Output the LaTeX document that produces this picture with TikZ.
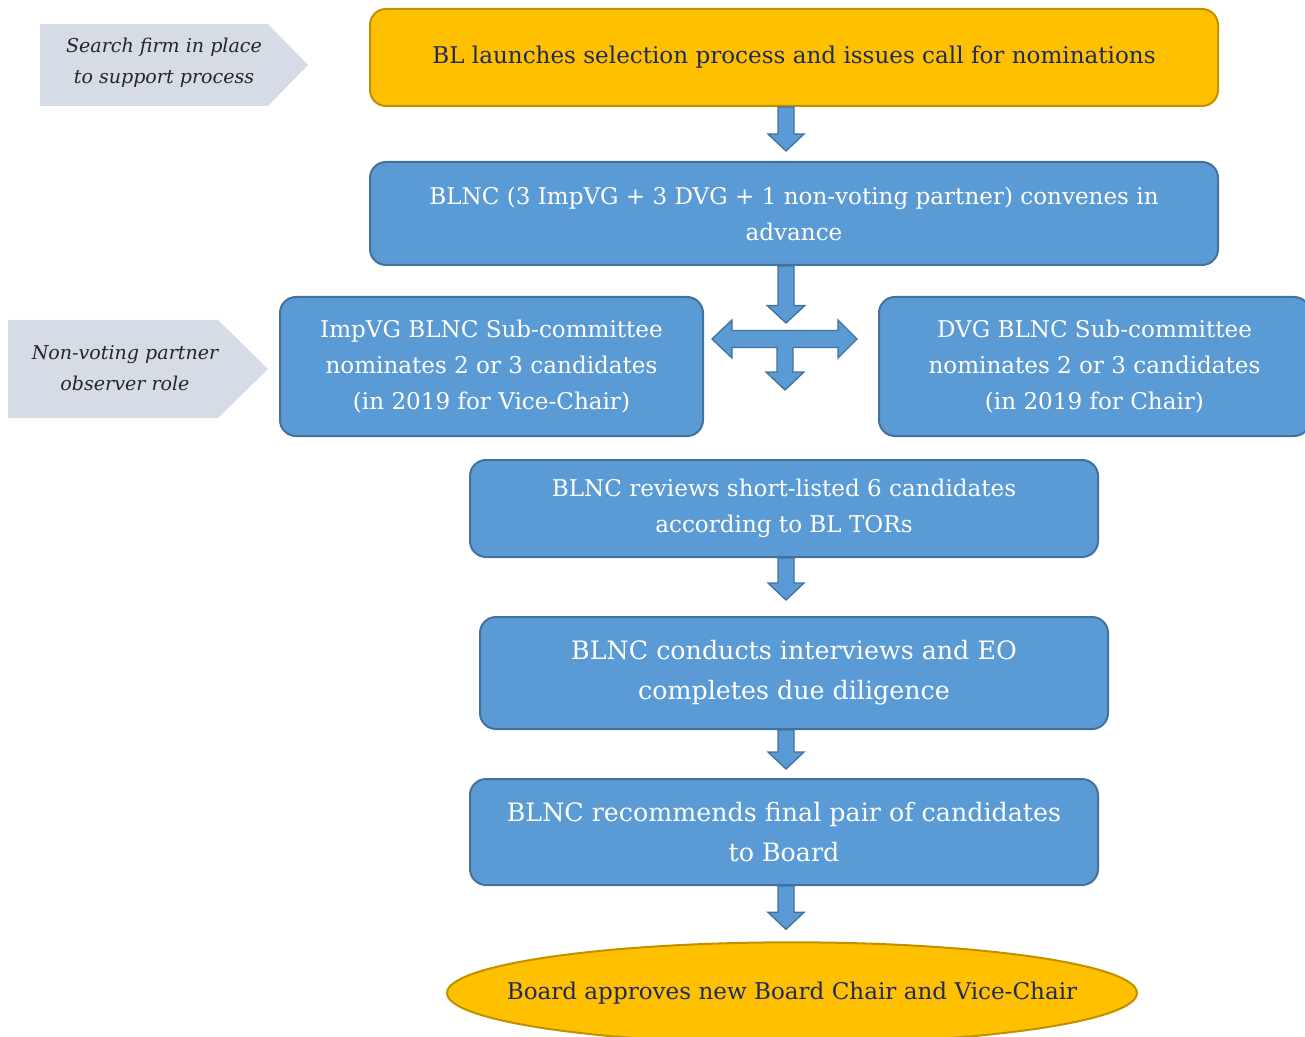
\documentclass[tikz,border=0pt]{standalone}
\usepackage{fontspec}
\setmainfont{DejaVu Serif}
\usetikzlibrary{calc,shapes.geometric}

\definecolor{gold}{HTML}{FFC000}
\definecolor{golddark}{HTML}{BF9000}
\definecolor{stepblue}{HTML}{5B9BD5}
\definecolor{stepline}{HTML}{41719C}
\definecolor{notegrey}{HTML}{D6DCE5}
\definecolor{navy}{HTML}{1F2A5C}

% block arrow from one box down to the next, #3 = gap before the next box
\newcommand{\flowarrow}[3]{%
    \draw [blockarrow] let \p1 = (spine |- #1.south), \p2 = (spine |- #2.north) in
        (\x1-6pt, \y1) -- (\x1-6pt, \y2+#3+12.75pt) -- (\x1-13.5pt, \y2+#3+12.75pt)
        -- (\x1, \y2+#3) -- (\x1+13.5pt, \y2+#3+12.75pt) -- (\x1+6pt, \y2+#3+12.75pt)
        -- (\x1+6pt, \y1) -- cycle;}

\begin{document}
\begin{tikzpicture}[x=0.75pt, y=-0.75pt,
        stepbox/.style={rectangle, rounded corners=12pt, draw=stepline, line width=1.5pt,
            fill=stepblue, text=white, align=center,
            font=\fontsize{17.3}{27}\selectfont},
        bigstep/.style={stepbox, font=\fontsize{19}{30}\selectfont},
        goldbox/.style={stepbox, draw=golddark, fill=gold, text=navy},
        note/.style={align=center, text=black!85, font=\fontsize{14.3}{23}\selectfont\itshape},
        blockarrow/.style={draw=stepline, line width=1pt, fill=stepblue, line join=miter}]
    \clip (0, 0) rectangle (1305, 1037);

    \coordinate (spine) at (786, 0);
    \coordinate (hub) at (785, 339);

    % side notes
    \fill [notegrey] (40, 24) -- (268, 24) -- (308, 65) -- (268, 106) -- (40, 106) -- cycle;
    \node [note] (search) at (164, 63) {Search firm in place\\to support process};
    \fill [notegrey] (8, 320) -- (218, 320) -- (268, 369) -- (218, 418) -- (8, 418) -- cycle;
    \node [note] (observer) at (125, 368) {Non-voting partner\\observer role};

    % steps
    \node [goldbox, minimum width=636pt, minimum height=72.75pt]
        (launch) at (794, 57.5) {BL launches selection process and issues call for nominations};
    \node [stepbox, minimum width=636pt, minimum height=77.25pt]
        (convene) at (794, 213.5) {BLNC (3 ImpVG + 3 DVG + 1 non-voting partner) convenes in\\advance};
    \node [stepbox, minimum width=317.25pt, minimum height=104.25pt]
        (impvg) at (491.5, 366.5) {ImpVG BLNC Sub-committee\\nominates 2 or 3 candidates\\(in 2019 for Vice-Chair)};
    \node [stepbox, minimum width=323.25pt, minimum height=104.25pt]
        (dvg) at (1094.5, 366.5) {DVG BLNC Sub-committee\\nominates 2 or 3 candidates\\(in 2019 for Chair)};
    \node [stepbox, minimum width=471pt, minimum height=72.75pt]
        (review) at (784, 508.5) {BLNC reviews short-listed 6 candidates\\according to BL TORs};
    \node [bigstep, minimum width=471pt, minimum height=84pt]
        (interview) at (794, 673) {BLNC conducts interviews and EO\\completes due diligence};
    \node [bigstep, minimum width=471pt, minimum height=79.5pt]
        (recommend) at (784, 832) {BLNC recommends final pair of candidates\\to Board};
    \node [ellipse, draw=golddark, line width=1.5pt, fill=gold, text=navy, inner sep=0pt,
        font=\fontsize{17.3}{27}\selectfont, minimum width=517.5pt, minimum height=76pt]
        (approve) at (792, 993) {\makebox[0pt]{Board approves new Board Chair and Vice-Chair}};

    % arrows
    \flowarrow{launch}{convene}{7.5pt}
    \draw [blockarrow] let \p1 = (spine |- convene.south), \p2 = (hub) in
        (\x1-6pt, \y1) -- (\x1-6pt, \y2+25pt) -- (\x1-14pt, \y2+25pt) -- (\x1, \y2+12pt)
        -- (\x1+14pt, \y2+25pt) -- (\x1+6pt, \y2+25pt) -- (\x1+6pt, \y1) -- cycle;
    \draw [blockarrow, shift={(hub)}]
        (-73, 0) -- (-53, -19) -- (-53, -8.5) -- (-8, -8.5) -- (8, -8.5) -- (53, -8.5)
        -- (53, -19) -- (72, 0) -- (53, 19) -- (53, 8.5) -- (8, 8.5) -- (8, 33)
        -- (19, 33) -- (0, 51) -- (-19, 33) -- (-8, 33) -- (-8, 8.5) -- (-53, 8.5)
        -- (-53, 19) -- cycle;
    \flowarrow{review}{interview}{12pt}
    \flowarrow{interview}{recommend}{6.75pt}
    \flowarrow{recommend}{approve}{9pt}
\end{tikzpicture}
\end{document}
